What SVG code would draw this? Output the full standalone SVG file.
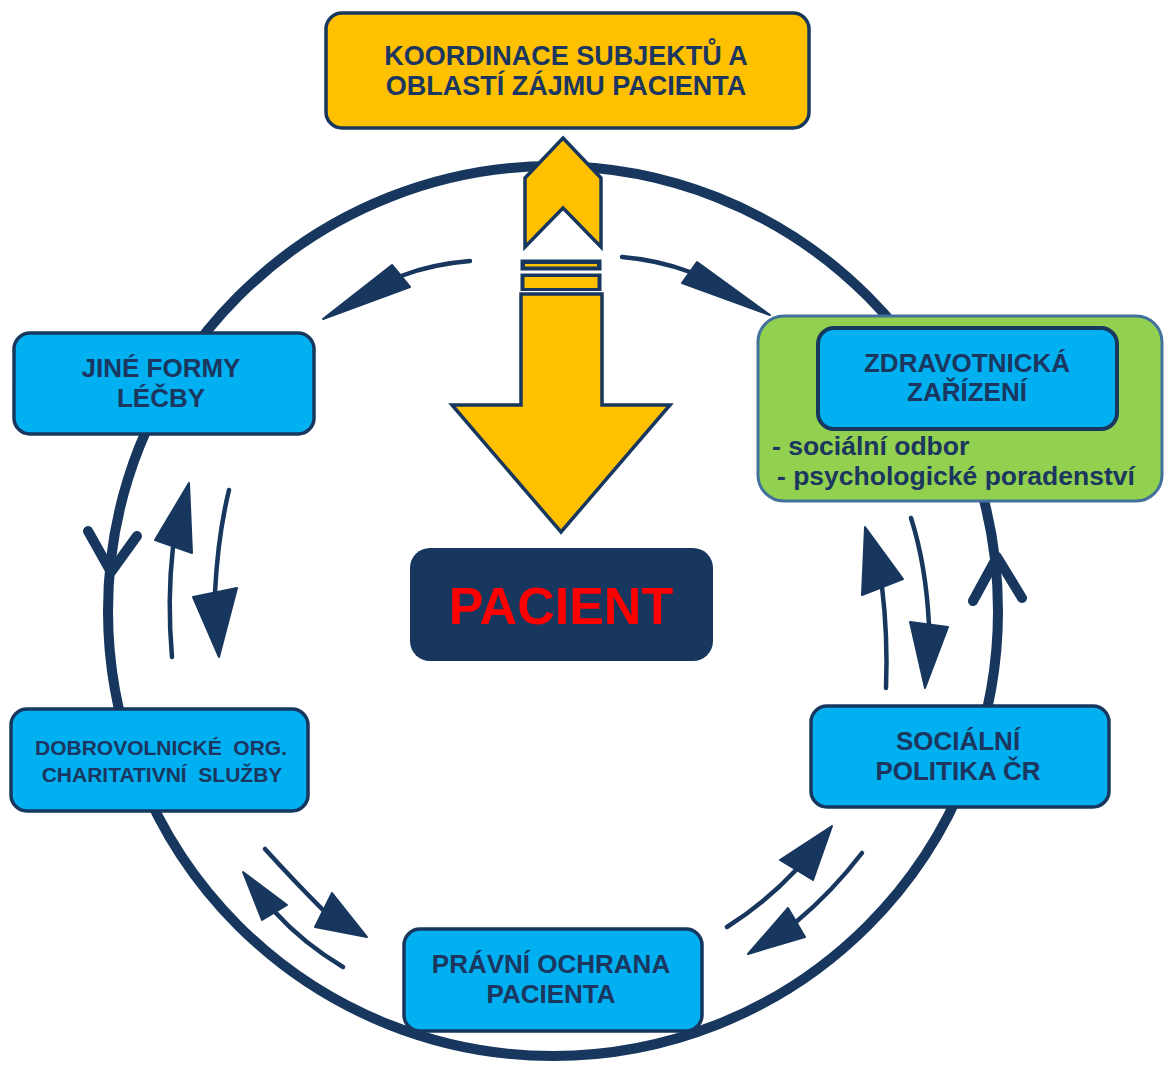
<svg xmlns="http://www.w3.org/2000/svg" width="1168" height="1066" viewBox="0 0 1168 1066">
<style>
.ring{fill:none;stroke:#17375E;stroke-width:10}
.chev{fill:none;stroke:#17375E;stroke-width:10;stroke-linecap:round;stroke-linejoin:round}
.shaft{fill:none;stroke:#17375E;stroke-width:4.5;stroke-linecap:round}
.head{fill:#17375E;stroke:#17375E;stroke-width:2;stroke-linejoin:round}
.box{fill:#00B0F0;stroke:#17375E;stroke-width:3.5}
.lbl{font-family:"Liberation Sans",Arial,sans-serif;font-weight:bold;fill:#1B365F;text-anchor:middle}
.yel{fill:#FFC000;stroke:#17375E;stroke-width:3.5;stroke-linejoin:miter}
</style>
<rect width="1168" height="1066" fill="#FFFFFF"/>
<g id="connectors">
  <circle class="ring" cx="553" cy="611" r="445"/>
  <path class="chev" d="M88,531 L111,572 L137,536"/>
  <path class="chev" d="M973,601 L997,557 L1022,598"/>
  <path class="shaft" d="M470,261 Q432,264 401,276"/>
  <polygon class="head" points="392,265 410,287 323,319"/>
  <path class="shaft" d="M622,257 Q658,260 690,272"/>
  <polygon class="head" points="697,262 682,283 770,315"/>
  <path class="shaft" d="M172,657 Q167,600 173,547"/>
  <polygon class="head" points="155,540 192,553 189,483"/>
  <path class="shaft" d="M229,490 Q218,535 215,592"/>
  <polygon class="head" points="193,597 237,588 219,657"/>
  <path class="shaft" d="M886,688 Q888,635 882,587"/>
  <polygon class="head" points="862,595 903,579 865,527"/>
  <path class="shaft" d="M911,518 Q926,565 929,625"/>
  <polygon class="head" points="910,622 948,627 925,688"/>
  <path class="shaft" d="M265,849 Q295,882 323,910"/>
  <polygon class="head" points="315,927 332,893 367,937"/>
  <path class="shaft" d="M343,967 Q303,943 275,912"/>
  <polygon class="head" points="262,920 287,905 243,872"/>
  <path class="shaft" d="M727,927 Q765,903 796,870"/>
  <polygon class="head" points="780,860 813,880 832,826"/>
  <path class="shaft" d="M862,853 Q832,892 796,922"/>
  <polygon class="head" points="788,908 805,937 748,954"/>
</g>
<g id="koordinace">
  <rect x="326" y="13" width="483" height="115" rx="16" fill="#FFC000" stroke="#17375E" stroke-width="3.5"/>
  <text class="lbl" x="566" y="65" font-size="27">KOORDINACE SUBJEKTŮ A</text>
  <text class="lbl" x="566" y="95" font-size="27">OBLASTÍ ZÁJMU PACIENTA</text>
</g>
<g id="yellow-arrow">
  <polygon class="yel" points="563,138 601,178 601,247 563,208 525,247 525,178"/>
  <rect x="520" y="259" width="82" height="12" fill="#17375E" stroke="#FFFFFF" stroke-width="1"/>
  <rect x="525" y="264" width="72" height="2.5" fill="#FFC000"/>
  <rect x="520" y="273" width="82" height="19" fill="#17375E" stroke="#FFFFFF" stroke-width="1"/>
  <rect x="524.5" y="277" width="73" height="11" fill="#FFC000"/>
  <polygon points="521,294 602,294 602,405 670,405 561,532 452,405 521,405" fill="none" stroke="#FFFFFF" stroke-width="6" stroke-linejoin="miter"/>
  <polygon class="yel" points="521,294 602,294 602,405 670,405 561,532 452,405 521,405"/>
</g>
<g id="pacient">
  <rect x="410" y="548" width="303" height="113" rx="20" fill="#17375E"/>
  <text x="561" y="624" font-family="'Liberation Sans',Arial,sans-serif" font-weight="bold" font-size="52" fill="#FF0000" text-anchor="middle">PACIENT</text>
</g>
<g id="jine-formy">
  <rect class="box" x="14" y="333" width="300" height="101" rx="16"/>
  <text class="lbl" x="161" y="377" font-size="26">JINÉ FORMY</text>
  <text class="lbl" x="161" y="407" font-size="26">LÉČBY</text>
</g>
<g id="zdravotnicka">
  <rect x="758" y="316" width="404" height="185" rx="26" fill="#92D050" stroke="#41719C" stroke-width="3"/>
  <rect x="818" y="328" width="299" height="101" rx="16" fill="#00B0F0" stroke="#17375E" stroke-width="4"/>
  <text class="lbl" x="967" y="372" font-size="26">ZDRAVOTNICKÁ</text>
  <text class="lbl" x="967" y="401" font-size="26">ZAŘÍZENÍ</text>
  <text class="lbl" x="772" y="455" font-size="26.5" text-anchor="start" style="text-anchor:start">- sociální odbor</text>
  <text class="lbl" x="777" y="485" font-size="26.5" style="text-anchor:start">- psychologické poradenství</text>
</g>
<g id="socialni-politika">
  <rect class="box" x="811" y="706" width="298" height="101" rx="16"/>
  <text class="lbl" x="958" y="750" font-size="26">SOCIÁLNÍ</text>
  <text class="lbl" x="958" y="780" font-size="26">POLITIKA ČR</text>
</g>
<g id="dobrovolnicke">
  <rect class="box" x="11" y="709" width="297" height="102" rx="16"/>
  <text class="lbl" x="161" y="755" font-size="21" xml:space="preserve">DOBROVOLNICKÉ  ORG.</text>
  <text class="lbl" x="162" y="782" font-size="21" xml:space="preserve">CHARITATIVNÍ  SLUŽBY</text>
</g>
<g id="pravni-ochrana">
  <rect class="box" x="404" y="929" width="298" height="102" rx="16"/>
  <text class="lbl" x="551" y="973" font-size="26">PRÁVNÍ OCHRANA</text>
  <text class="lbl" x="551" y="1003" font-size="26">PACIENTA</text>
</g>
</svg>
